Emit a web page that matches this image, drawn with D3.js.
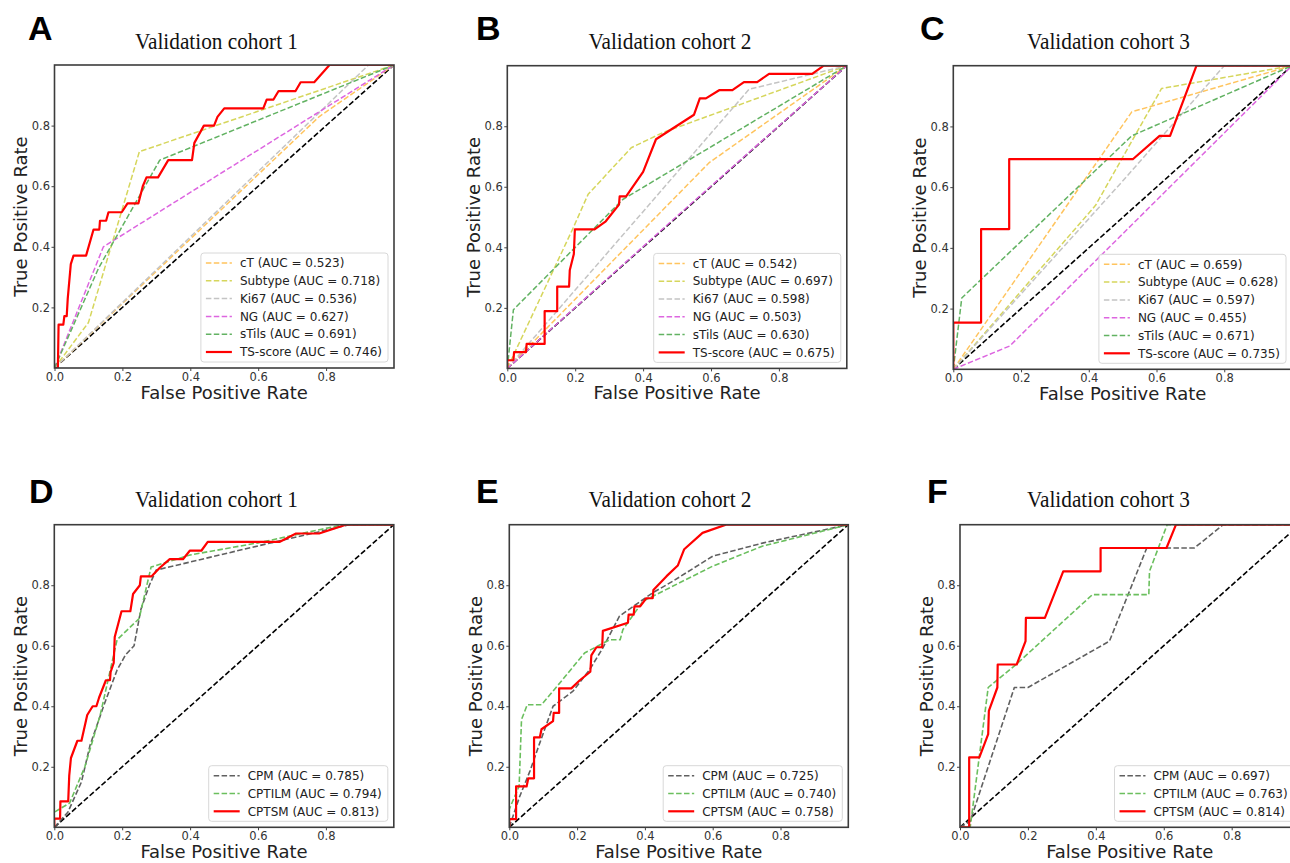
<!DOCTYPE html>
<html><head><meta charset="utf-8">
<script src="https://cdn.jsdelivr.net/npm/d3@7"></script>
<style>body{margin:0;background:#fff;} svg{display:block;}</style>
</head><body><svg id="c" width="1290" height="863"></svg>
<script>
// ---------------- DATA ----------------
const xTickValues = [0, 0.2, 0.4, 0.6, 0.8];
const yTickValues = [0.2, 0.4, 0.6, 0.8];
const panelLetters = ["A", "B", "C", "D", "E", "F"];
const panelTitles = ["Validation cohort 1", "Validation cohort 2", "Validation cohort 3",
                     "Validation cohort 1", "Validation cohort 2", "Validation cohort 3"];
const topSeriesNames = ["cT", "Subtype", "Ki67", "NG", "sTils", "TS-score"];
const bottomSeriesNames = ["CPM", "CPTILM", "CPTSM"];

const aucA = [0.523, 0.718, 0.536, 0.627, 0.691, 0.746];
const aucB = [0.542, 0.697, 0.598, 0.503, 0.630, 0.675];
const aucC = [0.659, 0.628, 0.597, 0.455, 0.671, 0.735];
const aucD = [0.785, 0.794, 0.813];
const aucE = [0.725, 0.740, 0.758];
const aucF = [0.697, 0.763, 0.814];

const chanceLine = [[0, 0], [1, 1]];

// Panel A
const A_cT = [[0,0],[0.78,0.83],[1,1]];
const A_Subtype = [[0,0],[0.1,0.15],[0.25,0.714],[1,1]];
const A_Ki67 = [[0,0],[0.925,1],[1,1]];
const A_NG = [[0,0],[0.144,0.4],[1,1]];
const A_sTils = [[0,0],[0.13,0.33],[0.31,0.686],[1,1]];
const A_TS = [[0,0],[0.01,0],[0.012,0.143],[0.026,0.143],[0.029,0.171],[0.036,0.171],[0.039,0.229],[0.048,0.343],[0.056,0.371],[0.093,0.371],[0.115,0.457],[0.132,0.457],[0.134,0.486],[0.152,0.486],[0.159,0.514],[0.198,0.514],[0.215,0.543],[0.247,0.543],[0.26,0.6],[0.271,0.629],[0.305,0.629],[0.335,0.686],[0.405,0.686],[0.412,0.743],[0.44,0.8],[0.47,0.8],[0.48,0.829],[0.5,0.857],[0.615,0.857],[0.625,0.886],[0.645,0.886],[0.66,0.914],[0.71,0.914],[0.725,0.943],[0.765,0.943],[0.81,1],[1,1]];

// Panel B
const B_cT = [[0,0],[0.595,0.68],[1,1]];
const B_Subtype = [[0,0],[0.194,0.464],[0.238,0.575],[0.365,0.729],[0.458,0.779],[1,1]];
const B_Ki67 = [[0,0],[0.712,0.922],[1,1]];
const B_NG = [[0,0],[0.5,0.503],[1,1]];
const B_sTils = [[0,0],[0.018,0.194],[0.34,0.558],[1,1]];
const B_TS = [[0,0],[0,0.027],[0.018,0.027],[0.02,0.054],[0.055,0.054],[0.057,0.081],[0.11,0.081],[0.11,0.189],[0.147,0.189],[0.147,0.27],[0.182,0.27],[0.184,0.324],[0.196,0.378],[0.199,0.459],[0.257,0.459],[0.29,0.486],[0.329,0.541],[0.331,0.568],[0.35,0.568],[0.4,0.649],[0.438,0.757],[0.55,0.838],[0.567,0.892],[0.585,0.892],[0.624,0.919],[0.663,0.919],[0.697,0.946],[0.736,0.946],[0.771,0.973],[0.898,0.973],[0.932,1],[1,1]];

// Panel C
const C_cT = [[0,0],[0.527,0.848],[1,1]];
const C_Subtype = [[0,0],[0.42,0.54],[0.615,0.925],[1,1]];
const C_Ki67 = [[0,0],[0.5,0.62],[0.8,1],[1,1]];
const C_NG = [[0,0],[0.167,0.077],[1,1]];
const C_sTils = [[0,0],[0.025,0.235],[0.527,0.769],[1,1]];
const C_TS = [[0,0],[0,0.154],[0.082,0.154],[0.082,0.462],[0.165,0.462],[0.165,0.692],[0.53,0.692],[0.609,0.769],[0.64,0.769],[0.718,1],[1,1]];

// Panel D
const D_CPM = [[0,0],[0.04,0.05],[0.08,0.15],[0.105,0.27],[0.145,0.4],[0.185,0.52],[0.21,0.57],[0.235,0.6],[0.255,0.72],[0.28,0.8],[0.3,0.85],[0.6,0.93],[0.87,1],[1,1]];
const D_CPTILM = [[0,0],[0,0.05],[0.045,0.08],[0.09,0.2],[0.135,0.37],[0.185,0.62],[0.25,0.69],[0.285,0.86],[0.4,0.9],[0.6,0.94],[0.85,1],[1,1]];
const D_CPTSM = [[0,0],[0,0.029],[0.017,0.029],[0.018,0.086],[0.041,0.086],[0.044,0.171],[0.049,0.229],[0.068,0.286],[0.08,0.286],[0.097,0.371],[0.113,0.4],[0.124,0.4],[0.132,0.429],[0.152,0.486],[0.164,0.486],[0.166,0.514],[0.175,0.543],[0.178,0.629],[0.198,0.714],[0.224,0.714],[0.232,0.771],[0.252,0.8],[0.255,0.829],[0.286,0.829],[0.31,0.857],[0.34,0.886],[0.379,0.886],[0.399,0.914],[0.433,0.914],[0.452,0.943],[0.663,0.943],[0.712,0.971],[0.78,0.971],[0.859,1],[1,1]];

// Panel E
const E_CPM = [[0,0],[0.03,0.1],[0.061,0.186],[0.09,0.279],[0.129,0.4],[0.188,0.45],[0.237,0.521],[0.276,0.593],[0.325,0.698],[0.423,0.775],[0.482,0.813],[0.6,0.896],[0.75,0.94],[1,1]];
const E_CPTILM = [[0,0],[0,0.06],[0.029,0.136],[0.036,0.356],[0.053,0.405],[0.095,0.405],[0.149,0.477],[0.222,0.576],[0.296,0.62],[0.327,0.62],[0.335,0.653],[0.394,0.747],[0.511,0.813],[0.6,0.863],[0.746,0.929],[1,1]];
const E_CPTSM = [[0,0],[0,0.027],[0.02,0.027],[0.02,0.135],[0.051,0.135],[0.056,0.162],[0.073,0.162],[0.073,0.297],[0.09,0.297],[0.095,0.324],[0.129,0.351],[0.131,0.378],[0.147,0.378],[0.147,0.459],[0.183,0.459],[0.208,0.486],[0.239,0.514],[0.242,0.568],[0.257,0.595],[0.274,0.595],[0.276,0.649],[0.35,0.676],[0.352,0.703],[0.367,0.703],[0.369,0.73],[0.386,0.73],[0.404,0.757],[0.423,0.757],[0.425,0.784],[0.464,0.83],[0.497,0.865],[0.516,0.919],[0.57,0.973],[0.639,1],[1,1]];

// Panel F
const F_CPM = [[0,0],[0.03,0.02],[0.16,0.462],[0.2,0.462],[0.44,0.615],[0.55,0.923],[0.69,0.923],[0.775,1],[1,1]];
const F_CPTILM = [[0,0],[0.03,0],[0.083,0.462],[0.167,0.54],[0.39,0.769],[0.556,0.769],[0.558,0.846],[0.61,1],[1,1]];
const F_CPTSM = [[0,0],[0.027,0],[0.027,0.231],[0.057,0.231],[0.083,0.308],[0.085,0.385],[0.11,0.462],[0.111,0.538],[0.167,0.538],[0.193,0.615],[0.194,0.692],[0.25,0.692],[0.304,0.846],[0.414,0.846],[0.414,0.923],[0.608,0.923],[0.636,1],[1,1]];

// ---------------- STYLES / LAYOUT ----------------
const topStyles = [
  {color: "#FFC45E", dash: true, width: 1.5},
  {color: "#D6D65C", dash: true, width: 1.5},
  {color: "#C4C4C4", dash: true, width: 1.5},
  {color: "#DD66E0", dash: true, width: 1.5},
  {color: "#62B262", dash: true, width: 1.5},
  {color: "#FF0000", dash: false, width: 2.2}
];
const bottomStyles = [
  {color: "#606060", dash: true, width: 1.6},
  {color: "#6BBF5E", dash: true, width: 1.6},
  {color: "#FF0000", dash: false, width: 2.2}
];
const layout = [
  {x0: 54.5, y0: 65.0, w: 339.5, h: 303.0, lx: 28, ly: 40, tx: 216.5, ty: 49},
  {x0: 507.3, y0: 65.7, w: 339.5, h: 302.7, lx: 476, ly: 40, tx: 670, ty: 49},
  {x0: 953.3, y0: 65.7, w: 338.7, h: 303.6, lx: 920, ly: 40, tx: 1108.5, ty: 49},
  {x0: 54.3, y0: 524.7, w: 339.5, h: 302.6, lx: 29, ly: 503, tx: 216.5, ty: 507},
  {x0: 509.3, y0: 524.7, w: 339.0, h: 302.6, lx: 476, ly: 503, tx: 670, ty: 507},
  {x0: 960.0, y0: 524.7, w: 339.6, h: 302.6, lx: 927, ly: 503, tx: 1108.5, ty: 507}
];

const panels = [
  {names: topSeriesNames, auc: aucA, series: [A_cT, A_Subtype, A_Ki67, A_NG, A_sTils, A_TS], styles: topStyles},
  {names: topSeriesNames, auc: aucB, series: [B_cT, B_Subtype, B_Ki67, B_NG, B_sTils, B_TS], styles: topStyles},
  {names: topSeriesNames, auc: aucC, series: [C_cT, C_Subtype, C_Ki67, C_NG, C_sTils, C_TS], styles: topStyles},
  {names: bottomSeriesNames, auc: aucD, series: [D_CPM, D_CPTILM, D_CPTSM], styles: bottomStyles},
  {names: bottomSeriesNames, auc: aucE, series: [E_CPM, E_CPTILM, E_CPTSM], styles: bottomStyles},
  {names: bottomSeriesNames, auc: aucF, series: [F_CPM, F_CPTILM, F_CPTSM], styles: bottomStyles}
];

// ---------------- DRAW ----------------
const svg = d3.select("#c");
const sans = "'DejaVu Sans', sans-serif";
const DASH = "5.5,2.4";

panels.forEach((p, i) => {
  const L = layout[i];
  const x = d3.scaleLinear().domain([0, 1]).range([L.x0, L.x0 + L.w]);
  const y = d3.scaleLinear().domain([0, 1]).range([L.y0 + L.h, L.y0]);
  const g = svg.append("g");

  const clipId = "clip" + i;
  svg.append("clipPath").attr("id", clipId).append("rect")
    .attr("x", L.x0).attr("y", L.y0).attr("width", L.w).attr("height", L.h);

  const plot = g.append("g").attr("clip-path", `url(#${clipId})`);
  const line = d3.line().x(d => x(d[0])).y(d => y(d[1]));

  // chance diagonal
  plot.append("path").datum(chanceLine).attr("d", line)
    .attr("fill", "none").attr("stroke", "#000").attr("stroke-width", 1.6)
    .attr("stroke-dasharray", DASH);

  p.series.forEach((s, k) => {
    const st = p.styles[k];
    plot.append("path").datum(s).attr("d", line)
      .attr("fill", "none").attr("stroke", st.color).attr("stroke-width", st.width)
      .attr("stroke-linejoin", "round")
      .attr("stroke-dasharray", st.dash ? DASH : null);
  });

  // axes
  const xAxis = d3.axisBottom(x).tickValues(xTickValues).tickFormat(d3.format(".1f")).tickSize(3).tickPadding(2);
  const yAxis = d3.axisLeft(y).tickValues(yTickValues).tickFormat(d3.format(".1f")).tickSize(3).tickPadding(1.5);
  const gx = g.append("g").attr("transform", `translate(0,${L.y0 + L.h})`).call(xAxis);
  const gy = g.append("g").attr("transform", `translate(${L.x0},0)`).call(yAxis);
  [gx, gy].forEach(a => {
    a.select(".domain").remove();
    a.selectAll("line").attr("stroke", "#444").attr("stroke-width", 1);
    a.selectAll("text").attr("font-family", sans).attr("font-size", 11.5).attr("fill", "#333");
  });

  // frame
  g.append("rect").attr("x", L.x0).attr("y", L.y0).attr("width", L.w).attr("height", L.h)
    .attr("fill", "none").attr("stroke", "#3c3c3c").attr("stroke-width", 1.6);

  // axis labels
  g.append("text").attr("x", L.x0 + L.w / 2).attr("y", L.y0 + L.h + 31)
    .attr("text-anchor", "middle").attr("font-family", sans).attr("font-size", 18).attr("fill", "#222")
    .text("False Positive Rate");
  g.append("text")
    .attr("transform", `translate(${L.x0 - 27.5},${L.y0 + L.h / 2}) rotate(-90)`)
    .attr("text-anchor", "middle").attr("font-family", sans).attr("font-size", 18).attr("fill", "#222")
    .text("True Positive Rate");

  // title
  g.append("text").attr("x", L.tx).attr("y", L.ty).attr("text-anchor", "middle")
    .attr("font-family", "'Liberation Serif', 'Times New Roman', serif").attr("font-size", 22.5)
    .attr("textLength", 163).attr("lengthAdjust", "spacingAndGlyphs").attr("fill", "#111")
    .text(panelTitles[i]);

  // panel letter
  g.append("text").attr("x", L.lx).attr("y", L.ly)
    .attr("font-family", "'Liberation Sans', Arial, sans-serif").attr("font-weight", "bold")
    .attr("font-size", 34).attr("fill", "#000").text(panelLetters[i]);

  // legend
  const lg = g.append("g");
  const rowH = 17.8;
  const n = p.names.length;
  const texts = p.names.map((nm, k) => `${nm} (AUC = ${p.auc[k].toFixed(3)})`);
  const box = lg.append("rect").attr("fill", "#fff").attr("fill-opacity", 0.85)
    .attr("stroke", "#d8d8d8").attr("stroke-width", 1).attr("rx", 3);
  let maxW = 0;
  const tEls = texts.map((t, k) => {
    const el = lg.append("text").attr("font-family", sans).attr("font-size", 12).attr("fill", "#222")
      .attr("dy", "0.35em").text(t);
    maxW = Math.max(maxW, el.node().getComputedTextLength());
    return el;
  });
  const bw = 39 + maxW + 6;
  const bh = 10 + (n - 1) * rowH + 10;
  const bx = L.x0 + L.w - 6 - bw;
  const by = L.y0 + L.h - 6 - bh;
  box.attr("x", bx).attr("y", by).attr("width", bw).attr("height", bh);
  tEls.forEach((el, k) => {
    const cy = by + 10 + k * rowH;
    el.attr("x", bx + 39).attr("y", cy);
    const st = p.styles[k];
    lg.append("line").attr("x1", bx + 5).attr("x2", bx + 31).attr("y1", cy).attr("y2", cy)
      .attr("stroke", st.color).attr("stroke-width", st.width)
      .attr("stroke-dasharray", st.dash ? DASH : null);
  });
});
</script>
</body></html>
